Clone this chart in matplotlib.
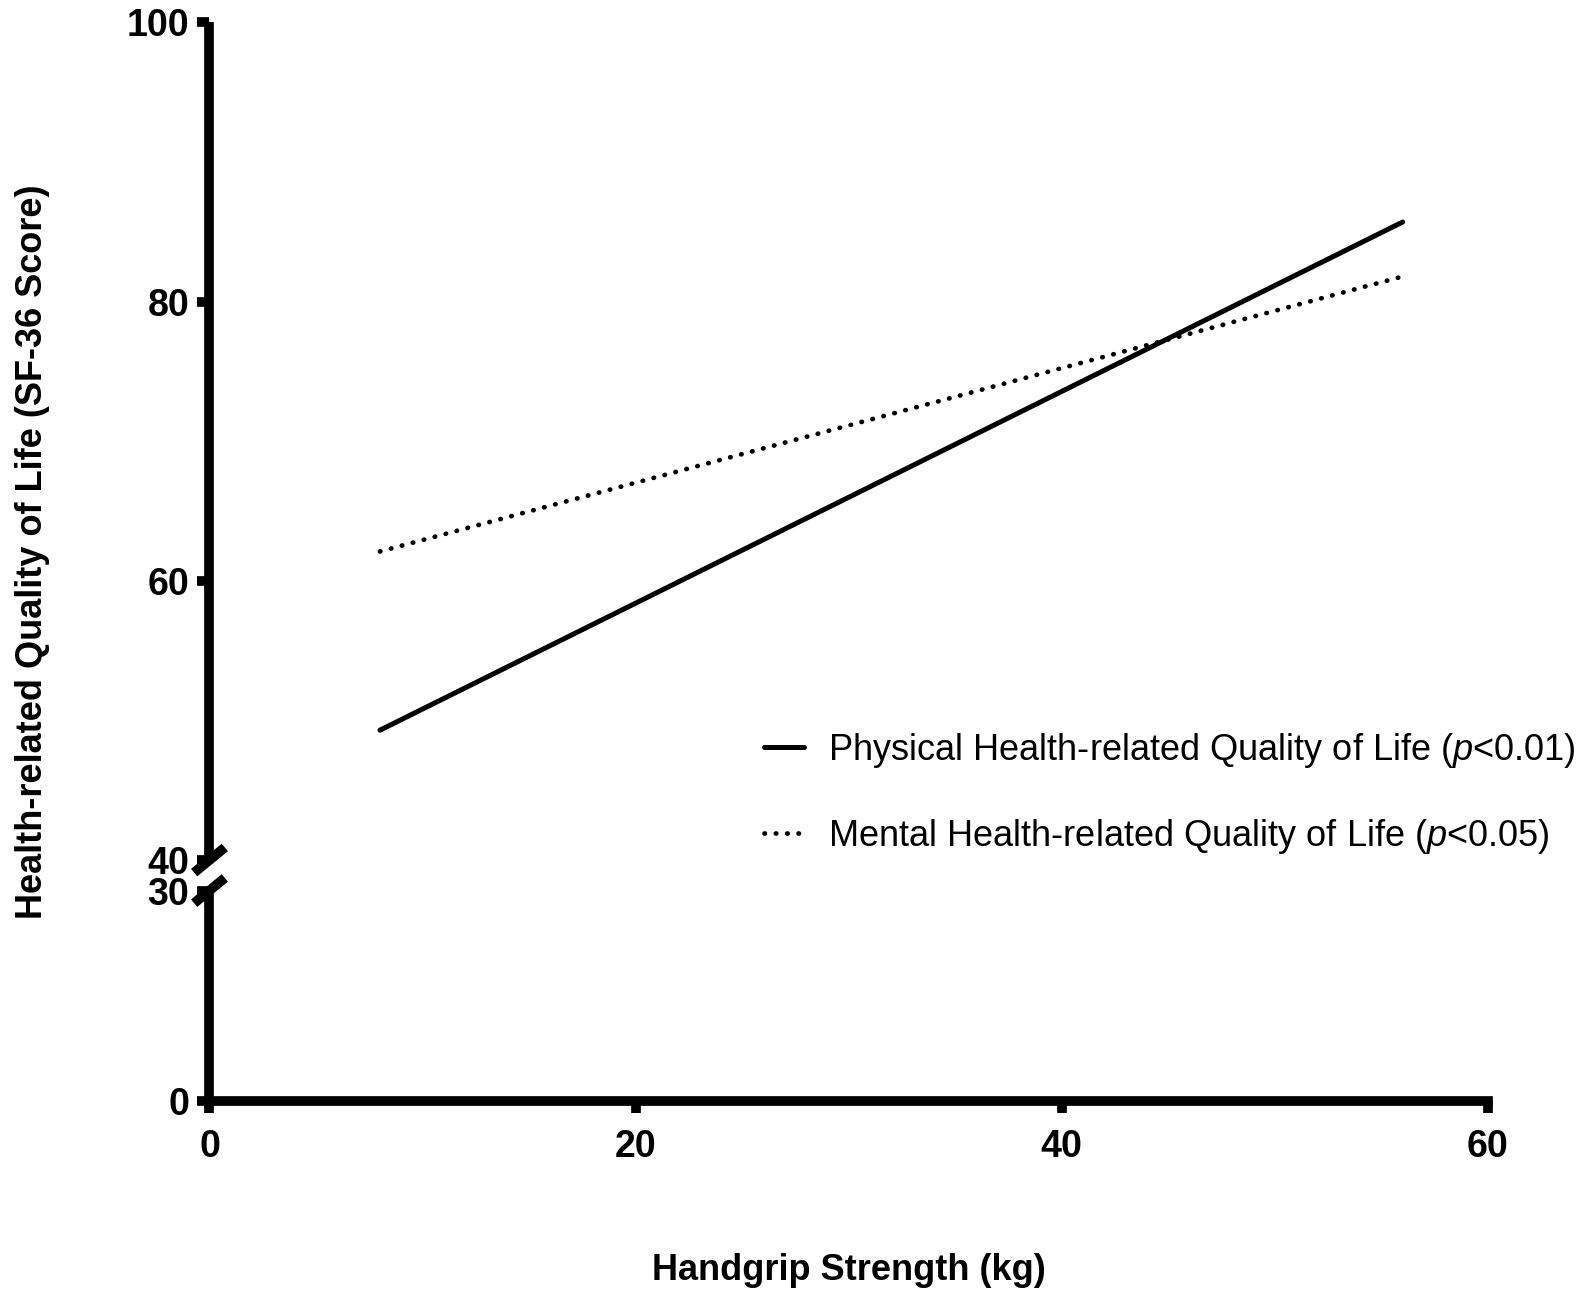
import sys
import numpy as np
import matplotlib as mpl
mpl.use("Agg")
import matplotlib.pyplot as plt

# Data
grip_kg = [8, 56]
physical_hrqol = [49.3, 85.7]
mental_hrqol = [62.1, 81.8]
labels = ["Physical Health-related Quality of Life ($\\mathit{p}$<0.01)",
          "Mental Health-related Quality of Life ($\\mathit{p}$<0.05)"]
x_ticks = [0, 20, 40, 60]
y_ticks_top = [40, 60, 80, 100]
y_ticks_bottom = [0, 30]


def main():
  plt.rcParams['font.family'] = ['Liberation Sans', 'DejaVu Sans']
  plt.rcParams['mathtext.fontset'] = 'custom'
  plt.rcParams['mathtext.it'] = 'Liberation Sans:italic'
  plt.rcParams['mathtext.rm'] = 'Liberation Sans'

  fig = plt.figure(figsize=(15.87, 12.98), dpi=100)
  ax_top = fig.add_axes([0.132, 0.3374, 0.8056, 0.6454])
  ax_bot = fig.add_axes([0.132, 0.1518, 0.8056, 0.1621])

  lw_spine = 7.0
  tick_fs = 27
  for ax in (ax_top, ax_bot):
    ax.set_xlim(0, 60)
    for s in ("top", "right"):
      ax.spines[s].set_visible(False)
    ax.spines["left"].set_linewidth(lw_spine)
    ax.spines["bottom"].set_linewidth(lw_spine)
    ax.spines["left"].set_capstyle("butt")
    ax.tick_params(axis="both", direction="out", length=8.5, width=lw_spine,
                   labelsize=tick_fs, pad=6)

  ax_top.set_ylim(40, 100)
  ax_top.set_yticks(y_ticks_top)
  ax_top.spines["bottom"].set_visible(False)
  ax_top.set_xticks([])

  ax_bot.set_ylim(0, 30)
  ax_bot.set_yticks(y_ticks_bottom)
  ax_bot.set_xticks(x_ticks)
  ax_bot.tick_params(axis="x", pad=12)

  ax_top.set_yticklabels([str(v) for v in y_ticks_top], fontweight="bold", fontsize=tick_fs)
  ax_bot.set_yticklabels([str(v) for v in y_ticks_bottom], fontweight="bold", fontsize=tick_fs)
  ax_bot.set_xticklabels([str(v) for v in x_ticks], fontweight="bold", fontsize=tick_fs)

  # Regression lines
  ax_top.plot(grip_kg, physical_hrqol, color="black", linewidth=3.6,
              solid_capstyle="round", label=labels[0])
  ax_top.plot(grip_kg, mental_hrqol, color="black", linewidth=3.4,
              linestyle=(0, (0.1, 2.3)), dash_capstyle="round", label=labels[1])

  # Axis break marks (diagonal slashes centred on the spine)
  kw = dict(color="black", linewidth=lw_spine, clip_on=False, solid_capstyle="butt")
  ax_top.plot([-0.72, 0.72], [40 - 0.9, 40 + 0.9], **kw)
  ax_bot.plot([-0.72, 0.72], [30 - 1.8, 30 + 1.8], **kw)

  fig.legend(loc="center left", bbox_to_anchor=(0.4814, 0.3886),
             frameon=False, handlelength=1.1, handletextpad=0.66,
             labelspacing=1.3, borderpad=0, borderaxespad=0,
             prop={'family': 'Liberation Sans', 'size': 26})

  fig.text(0.535, 0.021, "Handgrip Strength (kg)", ha="center", va="center",
           fontsize=26, fontweight="bold")
  fig.text(0.0205, 0.575, "Health-related Quality of Life (SF-36 Score)", ha="center",
           va="center", rotation=90, fontsize=26, fontweight="bold")

  plt.savefig("out.png", dpi=100)


if __name__ == "__main__":
  sys.exit(main())
